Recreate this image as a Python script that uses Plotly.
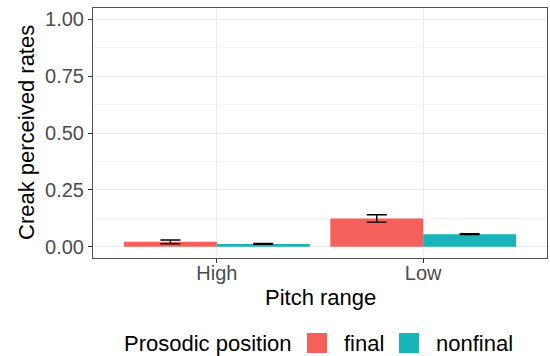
import plotly.graph_objects as go

categories = ["High", "Low"]
series_names = ["final", "nonfinal"]
final_vals = [0.021, 0.124]
final_err = [0.008, 0.016]
nonfinal_vals = [0.012, 0.055]
nonfinal_err = [0.002, 0.002]
colors = ["#F5605A", "#19B4B9"]
y_ticks = [0, 0.25, 0.5, 0.75, 1.0]
y_tick_labels = ["0.00", "0.25", "0.50", "0.75", "1.00"]
legend_title = "Prosodic position"
x_title = "Pitch range"
y_title = "Creak perceived rates"

font = "Liberation Sans, Arial, sans-serif"

fig = go.Figure()
for name, vals, errs, col in [
    (series_names[0], final_vals, final_err, colors[0]),
    (series_names[1], nonfinal_vals, nonfinal_err, colors[1]),
]:
    fig.add_trace(go.Bar(
        x=categories, y=vals, name=name, showlegend=False,
        marker=dict(color=col, line=dict(width=0)),
        error_y=dict(type="data", array=errs, visible=True, color="black", thickness=1.4, width=10),
    ))

# plot area in pixels: x 93..547, y 8..258
L, R, T, B = 93, 547, 8, 258
W, H = R - L, B - T
def px(x):
    return (x - L) / W
def py(y):
    return (B - y) / H

annotations = [
    dict(text=y_title, x=px(26), y=0.5, xref="paper", yref="paper", textangle=-90,
         showarrow=False, xanchor="center", yanchor="middle", font=dict(size=22, color="black")),
    dict(text=x_title, x=0.5, y=py(297), xref="paper", yref="paper",
         showarrow=False, xanchor="center", yanchor="middle", font=dict(size=22, color="black")),
    dict(text=legend_title, x=px(122), y=py(343), xref="paper", yref="paper",
         showarrow=False, xanchor="left", yanchor="middle", font=dict(size=22, color="black")),
]
shapes = []
key_x = [307, 399]
label_x = [342, 434]
for name, col, kx, lx in zip(series_names, colors, key_x, label_x):
    shapes.append(dict(type="rect", xref="paper", yref="paper",
                       x0=px(kx), x1=px(kx + 20), y0=py(353), y1=py(333),
                       fillcolor=col, line=dict(width=0)))
    annotations.append(dict(text=name, x=px(lx), y=py(343), xref="paper", yref="paper",
                            showarrow=False, xanchor="left", yanchor="middle",
                            font=dict(size=22, color="black")))

fig.update_layout(
    width=550, height=356, autosize=False,
    margin=dict(l=L, r=550 - R, t=T, b=356 - B),
    paper_bgcolor="white", plot_bgcolor="white",
    barmode="group", bargap=0.1, bargroupgap=0,
    font=dict(family=font, color="#000000"),
    showlegend=False,
    annotations=annotations,
    shapes=shapes,
    xaxis=dict(
        automargin=False,
        range=[-0.6, 1.6],
        tickfont=dict(size=20, color="#4D4D4D"),
        ticklabelstandoff=-7,
        showgrid=True, gridcolor="#EBEBEB", gridwidth=1,
        showline=True, mirror=True, linecolor="#555555", linewidth=1,
        ticks="outside", ticklen=4, tickcolor="#333333",
        zeroline=False,
    ),
    yaxis=dict(
        automargin=False,
        range=[-0.05, 1.05],
        tickvals=y_ticks, ticktext=y_tick_labels,
        tickfont=dict(size=20, color="#4D4D4D"),
        showgrid=True, gridcolor="#EBEBEB", gridwidth=1,
        minor=dict(dtick=0.25, tick0=0.125, showgrid=True, gridcolor="#F4F4F4", gridwidth=0.6),
        showline=True, mirror=True, linecolor="#555555", linewidth=1,
        ticks="outside", ticklen=4, tickcolor="#333333",
        zeroline=False,
    ),
)

post = (
    "document.body.style.margin='0';document.body.style.padding='0';"
    "document.documentElement.style.overflow='hidden';"
    "var gd=document.getElementById('{plot_id}');"
    "Plotly.relayout(gd,{width:550,height:356});"
)

fig.write_html("out.html", config={"responsive": False, "displayModeBar": False}, post_script=post)
